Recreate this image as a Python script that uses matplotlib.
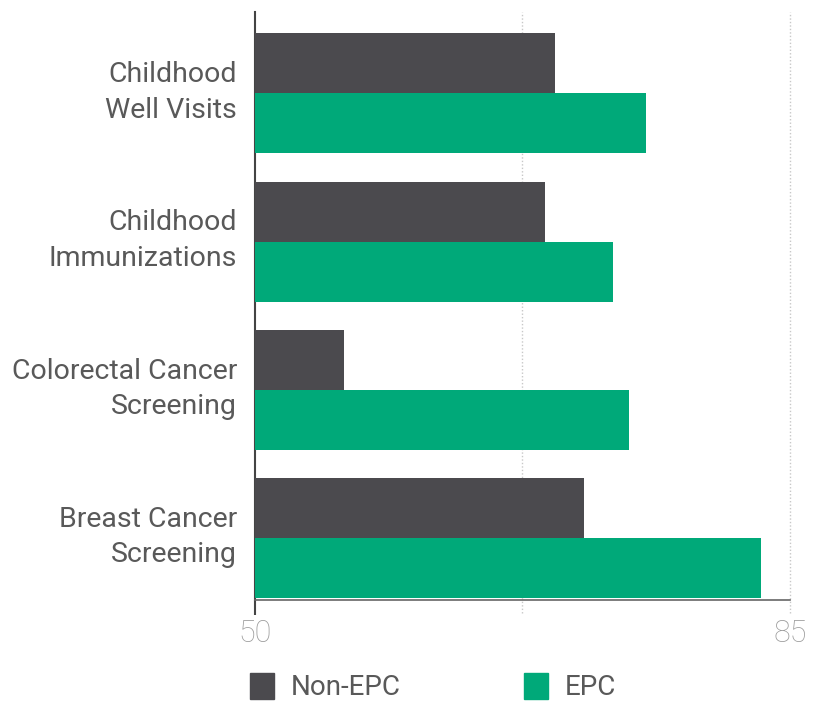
import matplotlib
matplotlib.use("Agg")
import matplotlib.pyplot as plt
from matplotlib.patches import Patch
from matplotlib import font_manager

names = {f.name for f in font_manager.fontManager.ttflist}
fam = [f for f in ["Liberation Sans Narrow", "Roboto", "DejaVu Sans"] if f in names]
plt.rcParams['font.family'] = fam

categories = ["Childhood\nWell Visits", "Childhood\nImmunizations",
              "Colorectal Cancer\nScreening", "Breast Cancer\nScreening"]
non_epc = [69.6, 69.0, 55.8, 71.5]
epc = [75.6, 73.4, 74.5, 83.1]
series_names = ["Non-EPC", "EPC"]
xticks = [50, 85]
gridlines = [67.5, 85]

dark = "#4b4a4e"
green = "#00a979"
txt = "#595959"

fig = plt.figure(figsize=(8.19, 7.04), dpi=100)
ax = fig.add_axes([255/819, 1-600/704, 535/819, 588/704])

h = 0.405
ys = list(range(len(categories)))
ax.barh([y - h/2 for y in ys], [v - 50 for v in non_epc], left=50, height=h, color=dark, zorder=3)
ax.barh([y + h/2 for y in ys], [v - 50 for v in epc], left=50, height=h, color=green, zorder=3)

ax.set_xlim(50, 85)
ax.set_ylim(3.42, -0.55)

for g in gridlines:
    ax.vlines(g, -0.022, 1.0, transform=ax.get_xaxis_transform(), colors="#c8c8c8",
              linestyles=(0, (1, 1.5)), linewidth=1.0, clip_on=False, zorder=1)

for s in ["top", "right"]:
    ax.spines[s].set_visible(False)
ax.spines["left"].set_color("#444444")
ax.spines["left"].set_linewidth(1.5)
ax.spines["bottom"].set_color("#666666")
ax.spines["bottom"].set_linewidth(1.2)

ax.set_xticks(xticks)
ax.set_xticklabels([str(t) for t in xticks], color="#9c9c9c", fontsize=22, fontweight="light")
ax.tick_params(axis="x", length=0, pad=14)
ax.vlines(50, -0.026, 0, transform=ax.get_xaxis_transform(), colors="#444444",
          linewidth=1.5, clip_on=False)

ax.set_yticks([y - 0.055 for y in ys])
ax.set_yticklabels(categories, fontsize=20.5, color=txt, ha="right", linespacing=1.4)
ax.tick_params(axis="y", length=0, pad=13)

legend_x = [250/819, 524/819]
for x, c, name in zip(legend_x, [dark, green], series_names):
    fig.legend([Patch(color=c)], [name], loc="center left", bbox_to_anchor=(x, 1-687/704),
               frameon=False, handlelength=0.85, handleheight=1.05,
               handletextpad=0.6, borderpad=0, borderaxespad=0, labelcolor=txt,
               prop={"size": 20})

fig.savefig("out.png", dpi=100)
